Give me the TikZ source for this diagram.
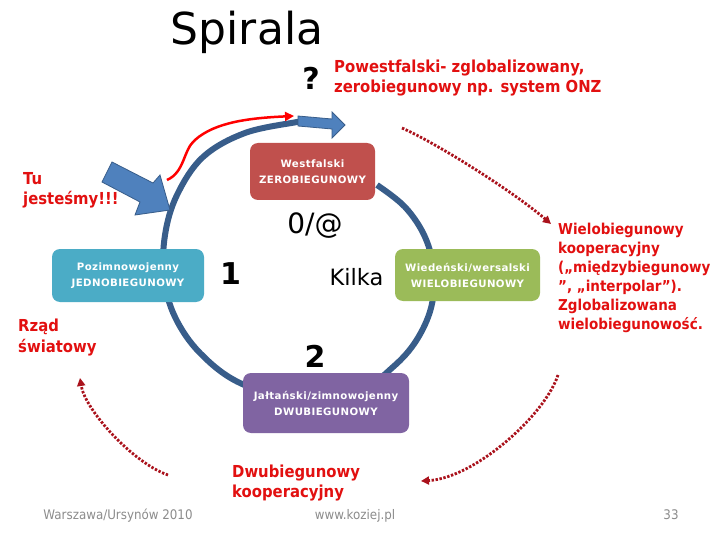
\documentclass[tikz,border=0pt]{standalone}
\usepackage{fontspec}
\setmainfont{DejaVu Sans}
\newfontfamily\condfont{DejaVu Sans}[FakeStretch=0.9]
\newfontfamily\boxfont{DejaVu Sans}[LetterSpace=4]
\usetikzlibrary{arrows.meta}
\definecolor{spiralblue}{RGB}{56,93,138}
\definecolor{arrowblue}{RGB}{79,129,189}
\definecolor{westred}{RGB}{192,80,77}
\definecolor{poztcyan}{RGB}{75,172,198}
\definecolor{wiedgreen}{RGB}{155,187,89}
\definecolor{jaltpurple}{RGB}{128,100,162}
\definecolor{labred}{RGB}{226,16,16}
\definecolor{dotred}{RGB}{170,18,28}
\definecolor{footgray}{RGB}{140,140,140}
\tikzset{
  phasebox/.style={rounded corners=8pt, text=white, align=center, inner sep=0pt,
    font=\boxfont\bfseries\fontsize{10.2}{16}\selectfont},
  redline/.style={text=labred, inner sep=0pt, anchor=base west,
    font=\condfont\bfseries\fontsize{16.5}{20}\selectfont},
  redlinesm/.style={redline, font=\condfont\bfseries\fontsize{15}{19}\selectfont},
  bignum/.style={inner sep=0pt, font=\bfseries\fontsize{30}{30}\selectfont},
  bigtxt/.style={inner sep=0pt, font=\fontsize{28}{28}\selectfont},
  footer/.style={text=footgray, inner sep=0pt, anchor=base,
    font=\condfont\fontsize{13.2}{14}\selectfont},
  dotarrow/.style={draw=dotred, line width=2.8pt, dash pattern=on 2.4pt off 1.6pt,
    -{Triangle[length=8pt,width=8pt]}},
  blockarrow/.style={fill=arrowblue, draw=spiralblue, line width=0.8pt, line join=miter},
}
\begin{document}
\begin{tikzpicture}[x=1pt,y=-1pt]
\useasboundingbox[fill=white] (0,0) rectangle (720,540);

% title
\node[inner sep=0pt, anchor=base, font=\fontsize{44}{44}\selectfont] (title) at (247,45) {Spirala};

% spiral
\draw[spiralblue, line width=6pt, line cap=butt] plot[smooth, tension=0.6] coordinates {
 (377,185) (405,207) (425,237) (434,272) (431,308) (416,341) (393,367) (360,390) (300,400)
 (240,383) (200,353) (175,317) (164,278) (165,235) (177,195) (203,157) (245,133) (297,122) (305,121)};
% block arrow at top end of spiral
\draw[blockarrow] (298,116) -- (332,119) -- (332,112) -- (345,125) -- (332,138) -- (332,129) -- (298,126) -- cycle;

% boxes
\node[phasebox, fill=westred, minimum width=125pt, minimum height=57pt] (west) at (312.5,171.5) {Westfalski\\ZEROBIEGUNOWY};
\node[phasebox, fill=poztcyan, minimum width=152pt, minimum height=53pt] (pozim) at (128,275.5) {Pozimnowojenny\\JEDNOBIEGUNOWY};
\node[phasebox, fill=wiedgreen, minimum width=145pt, minimum height=52pt] (wied) at (467.5,275) {Wiedeński/wersalski\\WIELOBIEGUNOWY};
\node[phasebox, fill=jaltpurple, minimum width=166pt, minimum height=60pt] (jalt) at (326,403) {Jałtański/zimnowojenny\\DWUBIEGUNOWY};

% numbers / inner labels
\node[bignum] (q) at (311,78) {?};
\node[bigtxt] (zero) at (315,226) {0/@};
\node[bignum] (one) at (230.5,273.5) {1};
\node[inner sep=0pt, anchor=base, font=\fontsize{22.5}{22.5}\selectfont] (kilka) at (356.5,285) {Kilka};
\node[bignum] (two) at (315,356) {2};

% red labels
\node[redline] (pw1) at (334,73) {Powestfalski- zglobalizowany,};
\node[redline] (pw2) at (334,93) {zerobiegunowy np. system ONZ};

\node[redline] (tu1) at (23,185) {Tu};
\node[redline] (tu2) at (23,205) {jesteśmy!!!};

\node[redline] (rz1) at (18,331) {Rząd};
\node[redline] (rz2) at (18,352) {światowy};

\node[redline] (dw1) at (232,477) {Dwubiegunowy};
\node[redline] (dw2) at (232,497) {kooperacyjny};

\node[redlinesm] (wl1) at (558,234) {Wielobiegunowy};
\node[redlinesm] (wl2) at (558,253) {kooperacyjny};
\node[redlinesm] (wl3) at (558,272) {(„międzybiegunowy};
\node[redlinesm] (wl4) at (558,291) {”, „interpolar”).};
\node[redlinesm] (wl5) at (558,310) {Zglobalizowana};
\node[redlinesm] (wl6) at (558,329) {wielobiegunowość.};

% "Tu jestesmy" block arrow
\draw[blockarrow] (112,162) -- (102,182) -- (140,202) -- (135,215) -- (170,210) -- (160,175) -- (153,183) -- cycle;

% red solid arrow
\coordinate (rs) at (167,180);
\coordinate (re) at (294,116);
\draw[red, line width=2.5pt, -{Triangle[length=9pt,width=9pt]}] (rs) .. controls (185,172) and (183,150) .. (195,140) .. controls (215,122) and (250,118) .. (re);

% dotted arrows
\coordinate (d1s) at (402,128); \coordinate (d1e) at (551,224);
\coordinate (d2s) at (558,375); \coordinate (d2e) at (421,481);
\coordinate (d3s) at (168,475); \coordinate (d3e) at (80,378);
\draw[dotarrow] (d1s) .. controls (440,145) and (515,193) .. (d1e);
\draw[dotarrow] (d2s) .. controls (545,415) and (475,478) .. (d2e);
\draw[dotarrow] (d3s) .. controls (133,463) and (85,410) .. (d3e);

% footer
\node[footer] (f1) at (118,519) {Warszawa/Ursynów 2010};
\node[footer] (f2) at (355,519) {www.koziej.pl};
\node[footer] (f3) at (671,519) {33};
\end{tikzpicture}
\end{document}
